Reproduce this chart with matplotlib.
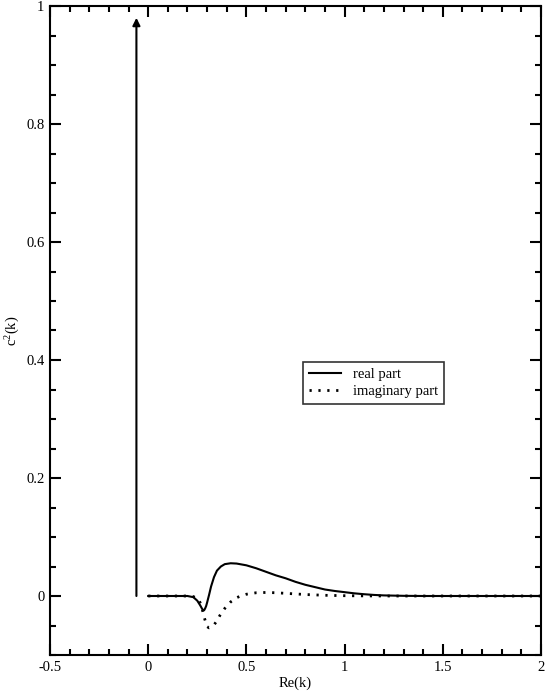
import matplotlib
matplotlib.use("Agg")
import matplotlib.pyplot as plt
from matplotlib.ticker import MultipleLocator

plt.rcParams['font.family'] = ['Liberation Serif', 'DejaVu Serif']
plt.rcParams['mathtext.fontset'] = 'custom'
plt.rcParams['mathtext.rm'] = 'Liberation Serif'
plt.rcParams['mathtext.it'] = 'Liberation Serif'
plt.rcParams['mathtext.default'] = 'regular'

# Data
x_real = [0.00, 0.10, 0.20, 0.23, 0.25, 0.265, 0.275, 0.28, 0.285, 0.29, 0.295, 0.30, 0.31,
          0.32, 0.335, 0.35, 0.37, 0.39, 0.42, 0.45, 0.50, 0.55, 0.60, 0.65, 0.70, 0.75,
          0.80, 0.85, 0.90, 0.95, 1.00, 1.05, 1.10, 1.15, 1.20, 1.30, 1.40, 2.00]
y_real = [0.0, 0.0, 0.0, -0.002, -0.008, -0.016, -0.022, -0.024, -0.024, -0.021, -0.017, -0.011, 0.002,
          0.016, 0.032, 0.043, 0.050, 0.054, 0.0555, 0.055, 0.052, 0.047, 0.041, 0.035, 0.030, 0.024,
          0.019, 0.015, 0.011, 0.0085, 0.0065, 0.0045, 0.003, 0.0018, 0.001, 0.0003, 0.0, 0.0]

x_imag = [0.00, 0.20, 0.23, 0.255, 0.27, 0.285, 0.30, 0.31, 0.32, 0.335, 0.35, 0.365,
          0.39, 0.42, 0.45, 0.47, 0.50, 0.55, 0.60, 0.65, 0.70, 0.80, 0.90, 1.00,
          1.10, 1.20, 2.00]
y_imag = [0.0, 0.0, -0.001, -0.005, -0.015, -0.036, -0.052, -0.054, -0.053, -0.049, -0.042, -0.033,
          -0.021, -0.010, -0.003, 0.0, 0.003, 0.0055, 0.006, 0.0055, 0.0045, 0.0025, 0.0012, 0.0005,
          0.0002, 0.0, 0.0]

arrow_x = -0.06
arrow_top = 0.98

x_ticks = [-0.5, 0, 0.5, 1, 1.5, 2]
x_ticklabels = ['-0.5', '0', '0.5', '1', '1.5', '2']
y_ticks = [0, 0.2, 0.4, 0.6, 0.8, 1]
y_ticklabels = ['0', '0.2', '0.4', '0.6', '0.8', '1']

fig = plt.figure(figsize=(5.45, 6.92), dpi=100)
ax = fig.add_axes([50/545, 37/692, 491/545, 649/692])

ax.plot(x_real, y_real, color='black', lw=1.5, label='real part')
ax.plot(x_imag, y_imag, color='black', lw=2.0, linestyle=(0, (0.8, 2.4)),
        label='imaginary part')

ax.annotate('', xy=(arrow_x, arrow_top), xytext=(arrow_x, 0),
            arrowprops=dict(arrowstyle='-|>', color='black', lw=1.5,
                            mutation_scale=11, shrinkA=0, shrinkB=0))

ax.set_xlim(-0.5, 2)
ax.set_ylim(-0.1, 1)
ax.set_xticks(x_ticks)
ax.set_xticklabels(x_ticklabels)
ax.set_yticks(y_ticks)
ax.set_yticklabels(y_ticklabels)
ax.xaxis.set_minor_locator(MultipleLocator(0.1))
ax.yaxis.set_minor_locator(MultipleLocator(0.05))
ax.tick_params(which='both', direction='in', top=True, right=True, width=1.5,
               labelsize=10.5, pad=4)
ax.tick_params(which='major', length=8)
ax.tick_params(which='minor', length=4)
for s in ax.spines.values():
    s.set_linewidth(1.5)

ax.set_xlabel('Re(k)', fontsize=10.5, labelpad=2)
ax.set_ylabel('c$^{2}$(k)', fontsize=10.5, labelpad=3)

leg = ax.legend(loc='upper left', bbox_to_anchor=(253/491, (655-362)/649),
                fontsize=10.5, frameon=True, fancybox=False, edgecolor='black',
                handlelength=2.2, handletextpad=0.8, borderpad=0.4,
                labelspacing=0.25, borderaxespad=0)
leg.get_frame().set_linewidth(1.2)

fig.savefig('out.png', dpi=100)
